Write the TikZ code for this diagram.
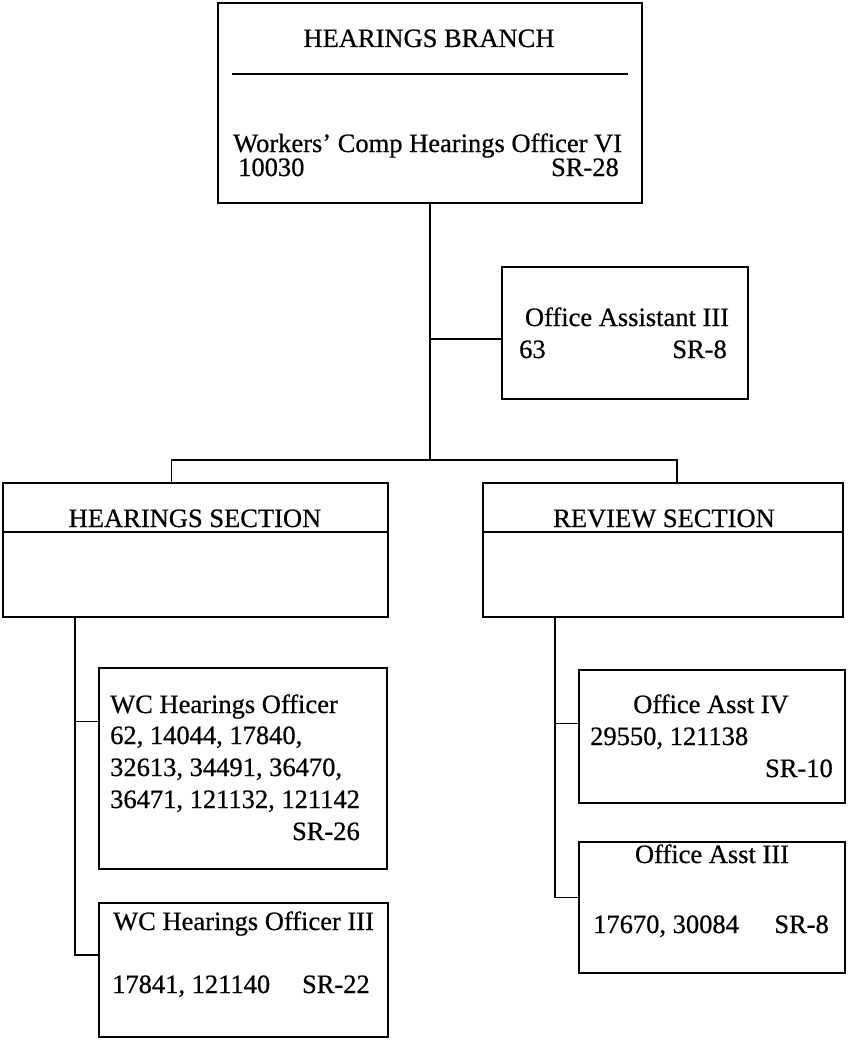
\documentclass[tikz,border=0pt]{standalone}
\usepackage{fontspec}
\setmainfont{Liberation Serif}[FakeBold=0.6]
\usetikzlibrary{positioning, calc}

\begin{document}
\begin{tikzpicture}[
        x=1pt, y=-1pt,
        unit/.style={draw, line width=1.8pt, inner sep=0pt, outer sep=0pt, anchor=north west},
        link/.style={line width=1.3pt},
        rule/.style={line width=1.3pt},
        txt/.style={inner sep=0pt, font=\fontsize{26.5}{32}\selectfont},
      ]
      \useasboundingbox (0,0) rectangle (847,1041);
      \node[unit, minimum width=424pt, minimum height=200pt] (branch) at (218,3) {};
      \node[unit, minimum width=246pt, minimum height=132pt] (oa) at (502,267) {};
      \node[unit, minimum width=385pt, minimum height=134pt] (hsec) at (3,483) {};
      \node[unit, minimum width=360pt, minimum height=134pt] (rsec) at (483,483) {};
      \node[unit, minimum width=288pt, minimum height=201pt] (who) at (99,668) {};
      \node[unit, minimum width=289pt, minimum height=134pt] (whothree) at (99,903) {};
      \node[unit, minimum width=266pt, minimum height=133pt] (oafour) at (579,670) {};
      \node[unit, minimum width=266pt, minimum height=131pt] (oathree) at (579,842) {};

      \draw[rule] ([xshift=14pt,yshift=-71pt]branch.north west) -- ([xshift=-14pt,yshift=-71pt]branch.north east);
      \draw[rule] ([yshift=-49pt]hsec.north west) -- ([yshift=-49pt]hsec.north east);
      \draw[rule] ([yshift=-49pt]rsec.north west) -- ([yshift=-49pt]rsec.north east);

      \node[txt, anchor=base] (branchtitle) at (429,47) {HEARINGS BRANCH};
      \node[txt, anchor=base west] (branchjob) at (233,152) {Workers’ Comp Hearings Officer VI};
      \node[txt, anchor=base west] (branchnum) at (238,176) {10030};
      \node[txt, anchor=base east] (branchsr) at (619,176) {SR-28};
      \node[txt, anchor=base] (oajob) at (627,326) {Office Assistant III};
      \node[txt, anchor=base west] (oanum) at (519,358) {63};
      \node[txt, anchor=base east] (oasr) at (727,358) {SR-8};
      \node[txt, anchor=base] (hsectitle) at (195,527) {HEARINGS SECTION};
      \node[txt, anchor=base] (rsectitle) at (664,527) {REVIEW SECTION};
      \node[txt, anchor=base west] (whojob) at (110,713) {WC Hearings Officer};
      \node[txt, anchor=base west] (whonuma) at (110,744) {62, 14044, 17840,};
      \node[txt, anchor=base west] (whonumb) at (110,776) {32613, 34491, 36470,};
      \node[txt, anchor=base west] (whonumc) at (110,808) {36471, 121132, 121142};
      \node[txt, anchor=base east] (whosr) at (360,840) {SR-26};
      \node[txt, anchor=base west] (whothreejob) at (113,930) {WC Hearings Officer III};
      \node[txt, anchor=base west] (whothreenum) at (112,993) {17841, 121140};
      \node[txt, anchor=base east] (whothreesr) at (370,993) {SR-22};
      \node[txt, anchor=base] (oafourjob) at (711,713) {Office Asst IV};
      \node[txt, anchor=base west] (oafournum) at (590,745) {29550, 121138};
      \node[txt, anchor=base east] (oafoursr) at (833,777) {SR-10};
      \node[txt, anchor=base] (oathreejob) at (712,863) {Office Asst III};
      \node[txt, anchor=base west] (oathreenum) at (593,933) {17670, 30084};
      \node[txt, anchor=base east] (oathreesr) at (829,933) {SR-8};

      \coordinate (hdrop) at ([xshift=72pt]hsec.south west);
      \coordinate (rdrop) at ([xshift=72pt]rsec.south west);
      \draw[link] (branch.south) -- ++(0,257) coordinate (hub);
      \draw[link] ([yshift=-6pt]oa.west) -| (branch.south);
      \draw[link] ([xshift=-24pt]hsec.north) |- (hub) -| ([xshift=14pt]rsec.north);
      \draw[link] (hdrop) |- ([yshift=15pt]whothree.west);
      \draw[link] ([yshift=47pt]who.west) -| (hdrop);
      \draw[link] (rdrop) |- ([yshift=10pt]oathree.west);
      \draw[link] ([yshift=13pt]oafour.west) -| (rdrop);
      \end{tikzpicture}
\end{document}
